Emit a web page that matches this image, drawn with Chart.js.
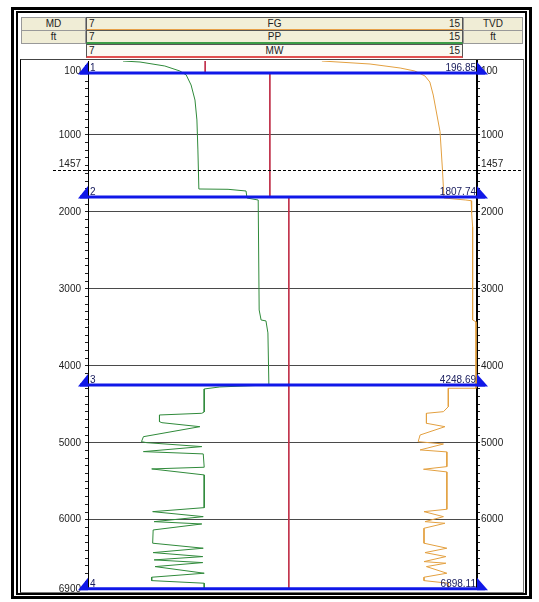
<!DOCTYPE html>
<html>
<head>
<meta charset="utf-8">
<script src="https://cdn.jsdelivr.net/npm/chart.js@4.4.1/dist/chart.umd.min.js"></script>
<style>
    body { margin: 0; width: 539px; height: 602px; background: #fff; position: relative; overflow: hidden;
           font-family: "Liberation Sans", Arial, sans-serif; font-size: 10px; color: #222; }
    .frame-outer { position: absolute; left: 11px; top: 7px; width: 515px; height: 586px; border: 3px solid #000; }
    .frame-inner { position: absolute; left: 16px; top: 11px; width: 507px; height: 580px; border: 2px solid #000; }
    .panel { position: absolute; left: 20px; top: 59px; width: 502px; height: 532px; border: 1px solid #777; border-left-color: #000; border-top-color: #444; }
    .cell { position: absolute; height: 12px; line-height: 12px; box-sizing: content-box; }
    .side { background: #f0edd6; border: 1px solid #999; text-align: center; }
    .track { background: #f2efd8; border: 1px solid #555; }
    .track span { position: absolute; top: 0; }
    .track .lo { left: 2px; }
    .track .hi { right: 2px; }
    .track .nm { left: 0; right: 0; text-align: center; }
    #wellChart { position: absolute; left: 21px; top: 60px; }
</style>
</head>
<body>
<div class="frame-outer"></div>
<div class="frame-inner"></div>
<div class="panel"></div>

<!-- header -->
<div class="cell side" style="left:21px;top:17px;width:63px;">MD</div>
<div class="cell side" style="left:21px;top:30px;width:63px;">ft</div>
<div class="cell side" style="left:463px;top:17px;width:58px;">TVD</div>
<div class="cell side" style="left:463px;top:30px;width:58px;">ft</div>
<div class="cell track" style="left:86px;top:17px;width:375px;border-bottom:2px solid #e8a048;height:11px;"><span class="lo">7</span><span class="nm">FG</span><span class="hi">15</span></div>
<div class="cell track" style="left:86px;top:30px;width:375px;border-bottom:2px solid #3c9c48;height:11px;"><span class="lo">7</span><span class="nm">PP</span><span class="hi">15</span></div>
<div class="cell track" style="left:86px;top:44px;width:375px;border-bottom:2px solid #e05050;height:11px;background:#fbf8f1;"><span class="lo">7</span><span class="nm">MW</span><span class="hi">15</span></div>

<canvas id="wellChart" width="502" height="532"></canvas>

<script>
// ==========================================
// DATA
// ==========================================
const depthMin = 40;
const depthMax = 6900;
const xMin = 7;
const xMax = 15;

// FG (fracture gradient) - orange
const fgDepth = [40, 79, 131, 170, 235, 313, 482, 958, 1456, 1820, 1846, 1855, 2015, 2193, 3405, 3428, 4292, 4292,
    4531, 4596, 4617, 4747, 4791, 4899, 4986, 5016, 5093, 5119, 5310, 5344, 5379, 5864, 5895, 5960, 6025, 6046,
    6111, 6305, 6370, 6427, 6479, 6544, 6565, 6609, 6695, 6747, 6791, 6825, 6900];
const fgValue = [11.81, 12.80, 13.42, 13.72, 13.93, 14.03, 14.10, 14.24, 14.29, 14.32, 14.77, 14.88, 14.89, 14.91,
    14.91, 14.98, 14.98, 14.41, 14.41, 14.31, 13.96, 13.96, 14.34, 13.83, 13.79, 14.31, 13.83, 14.38, 14.38, 13.90,
    14.38, 14.38, 13.91, 14.31, 13.93, 14.34, 13.91, 13.91, 14.38, 13.93, 14.36, 13.91, 14.36, 13.96, 14.38, 13.91,
    13.91, 14.41, 14.41];

// PP (pore pressure) - green
const ppDepth = [40, 53, 105, 170, 222, 352, 547, 806, 1196, 1703, 1707, 1729, 1820, 1846, 3275, 3405, 3417, 3573,
    4249, 4275, 4301, 4600, 4617, 4639, 4726, 4739, 4791, 4921, 4986, 4999, 5050, 5115, 5145, 5318, 5340, 5418,
    5843, 5895, 5960, 6025, 6055, 6133, 6305, 6370, 6427, 6479, 6522, 6557, 6609, 6695, 6747, 6791, 6825, 6900];
const ppValue = [7.72, 8.07, 8.58, 8.89, 9.02, 9.12, 9.20, 9.24, 9.26, 9.28, 9.88, 10.25, 10.27, 10.50, 10.52, 10.56,
    10.66, 10.70, 10.72, 9.71, 9.39, 9.39, 9.34, 8.47, 8.47, 8.52, 9.30, 8.14, 8.10, 8.21, 9.34, 8.14, 9.37, 9.39,
    8.31, 9.39, 9.39, 8.33, 9.37, 8.36, 9.34, 8.34, 8.33, 9.37, 8.34, 9.36, 8.36, 9.36, 8.38, 9.39, 8.31, 8.31,
    9.39, 9.39];

// MW (mud weight) - red
const mwDepth = [40, 196.85, 196.85, 1807.74, 1807.74, 6900];
const mwValue = [9.41, 9.41, 10.74, 10.74, 11.13, 11.13];

// casing / section markers
const markerDepth = [196.85, 1807.74, 4248.69, 6898.11];
const markerText = ['196.85', '1807.74', '4248.69', '6898.11'];
const markerNum = ['1', '2', '3', '4'];

// axis ticks
const leftLabels = [100, 1000, 1457, 2000, 3000, 4000, 5000, 6000, 6900];
const rightLabels = [100, 1000, 1457, 2000, 3000, 4000, 5000, 6000];
const gridDepths = [1000, 2000, 3000, 4000, 5000, 6000];
const dashedDepth = 1457;

// minor ticks every 100 ft
const tickDepths = [];
for (let d = 100; d <= 6900; d += 100) tickDepths.push(d);
if (!tickDepths.includes(1457)) tickDepths.push(1457);
tickDepths.sort((a, b) => a - b);

function toPoints(depths, values) {
    return depths.map((d, i) => ({ x: values[i], y: d }));
}

// label text; the top and break labels sit a half line off their tick like the original
function depthLabel(v, labels) {
    if (!labels.includes(v)) return '';
    if (v === 100) return ['', '100'];
    if (v === dashedDepth) return [String(v), ''];
    return String(v);
}

// ==========================================
// PLUGIN: dashed line + markers
// ==========================================
const markerPlugin = {
    id: 'wellMarkers',
    afterDatasetsDraw(chart) {
        const ctx = chart.ctx;
        const y = chart.scales.y;
        const area = chart.chartArea;

        // dashed scale-break line
        const yd = Math.round(y.getPixelForValue(dashedDepth)) + 0.5;
        ctx.save();
        ctx.strokeStyle = '#000';
        ctx.lineWidth = 1;
        ctx.setLineDash([3, 2]);
        ctx.beginPath();
        ctx.moveTo(32, yd);
        ctx.lineTo(chart.width, yd);
        ctx.stroke();
        ctx.setLineDash([]);

        markerDepth.forEach((d, i) => {
            const py = y.getPixelForValue(d);
            ctx.strokeStyle = '#1018e8';
            ctx.fillStyle = '#1018e8';
            ctx.lineWidth = 3;
            ctx.beginPath();
            ctx.moveTo(area.left - 8, py);
            ctx.lineTo(area.right + 8, py);
            ctx.stroke();

            // left triangle
            ctx.beginPath();
            ctx.moveTo(area.left - 10, py + 1.5);
            ctx.lineTo(area.left, py - 11);
            ctx.lineTo(area.left, py + 1.5);
            ctx.closePath();
            ctx.fill();
            // right triangle
            ctx.beginPath();
            ctx.moveTo(area.right, py - 11);
            ctx.lineTo(area.right + 11, py + 1.5);
            ctx.lineTo(area.right, py + 1.5);
            ctx.closePath();
            ctx.fill();

            ctx.fillStyle = '#1c2060';
            ctx.font = '10px "Liberation Sans", Arial, sans-serif';
            ctx.textBaseline = 'alphabetic';
            ctx.textAlign = 'left';
            ctx.fillText(markerNum[i], area.left + 2, py - 2);
            ctx.textAlign = 'right';
            ctx.fillText(markerText[i], area.right - 1, py - 2);
        });
        ctx.restore();
    }
};

// ==========================================
// CHART
// ==========================================
const tickFont = { family: '"Liberation Sans", Arial, sans-serif', size: 10, lineHeight: 1.2 };

function depthAxis(position, labels) {
    return {
        type: 'linear',
        position: position,
        reverse: true,
        min: depthMin,
        max: depthMax,
        afterBuildTicks: (scale) => { scale.ticks = tickDepths.map(v => ({ value: v })); },
        afterFit: (scale) => {
            scale.width = position === 'left' ? 67 : 46;
            scale.paddingTop = 0;
            scale.paddingBottom = 0;
        },
        ticks: {
            autoSkip: false,
            color: '#222',
            font: tickFont,
            padding: position === 'left' ? 4 : 1,
            callback: (v) => depthLabel(v, labels)
        },
        grid: {
            drawOnChartArea: position === 'left',
            color: (c) => (c.tick && gridDepths.includes(c.tick.value)) ? '#4a4a4a' : 'rgba(0,0,0,0)',
            tickColor: '#222',
            tickLength: 3
        },
        border: { display: true, color: '#000', width: position === 'left' ? 1 : 2 }
    };
}

new Chart(document.getElementById('wellChart'), {
    type: 'scatter',
    data: {
        datasets: [
            { label: 'FG', data: toPoints(fgDepth, fgValue), borderColor: '#e3a040', borderWidth: 1, showLine: true, pointRadius: 0, yAxisID: 'y' },
            { label: 'PP', data: toPoints(ppDepth, ppValue), borderColor: '#2f8a3a', borderWidth: 1, showLine: true, pointRadius: 0, yAxisID: 'y' },
            { label: 'MW', data: toPoints(mwDepth, mwValue), borderColor: '#c0304a', borderWidth: 1, showLine: true, pointRadius: 0, yAxisID: 'y' }
        ]
    },
    options: {
        responsive: false,
        animation: false,
        devicePixelRatio: 1,
        layout: { padding: { top: 1, bottom: 3, left: 0, right: 0 } },
        plugins: { legend: { display: false }, tooltip: { enabled: false } },
        scales: {
            x: { type: 'linear', min: xMin, max: xMax, display: false },
            y: depthAxis('left', leftLabels),
            y2: depthAxis('right', rightLabels)
        }
    },
    plugins: [markerPlugin]
});
</script>
</body>
</html>
